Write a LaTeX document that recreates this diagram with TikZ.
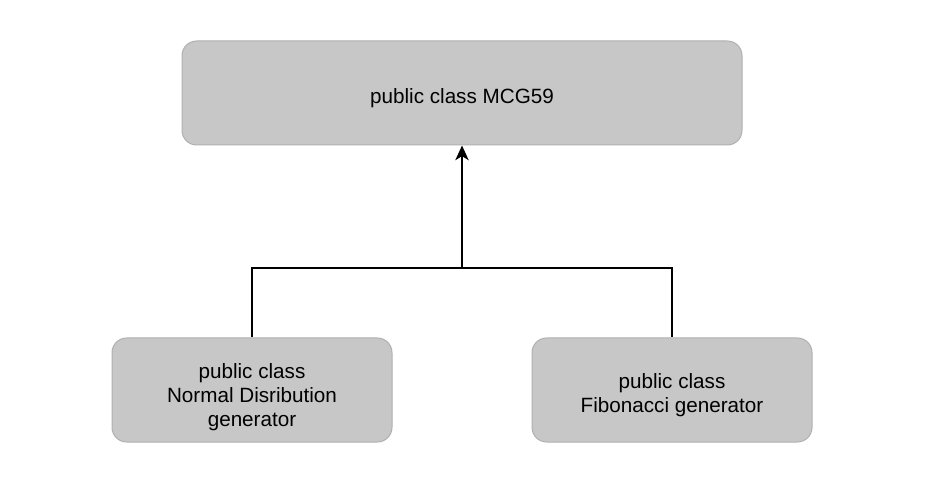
\documentclass[tikz,border=0pt]{standalone}
\usepackage{fontspec}
\setmainfont{Liberation Sans}
\usetikzlibrary{arrows.meta,positioning}
\definecolor{boxfill}{HTML}{C7C7C7}
\definecolor{boxline}{HTML}{B0B0B0}
\newcommand{\classtext}[2]{\raisebox{-#1}[\height][\depth]{\begin{tabular}{@{}c@{}}#2\end{tabular}}}

\begin{document}
\begin{tikzpicture}[x=0.75pt, y=-0.75pt, >={Stealth[length=11pt,width=10pt,inset=3pt]},
  every node/.style={font=\fontsize{15.5}{18}\selectfont},
  classbox/.style={draw=boxline, line width=0.75pt, fill=boxfill, rounded corners=11pt, inner sep=0pt}]
  \useasboundingbox (0,0) rectangle (930,498);
  \node[classbox, minimum width=420pt, minimum height=78pt] (mcg) at (462,93) {\classtext{4.5pt}{public class MCG59}};
  \node[classbox, minimum width=210pt, minimum height=78pt] (normal) at (252,390) {\classtext{6pt}{public class\\Normal Disribution\\generator}};
  \node[classbox, minimum width=210pt, minimum height=78pt] (fib) at (672,390) {\classtext{4pt}{public class\\Fibonacci generator}};
  \coordinate (join) at (462,268);
  \draw[line width=1.1pt] (normal.north) |- (join) -| (fib.north);
  \draw[->, line width=1.1pt] (join) -- (mcg.south);
\end{tikzpicture}
\end{document}
